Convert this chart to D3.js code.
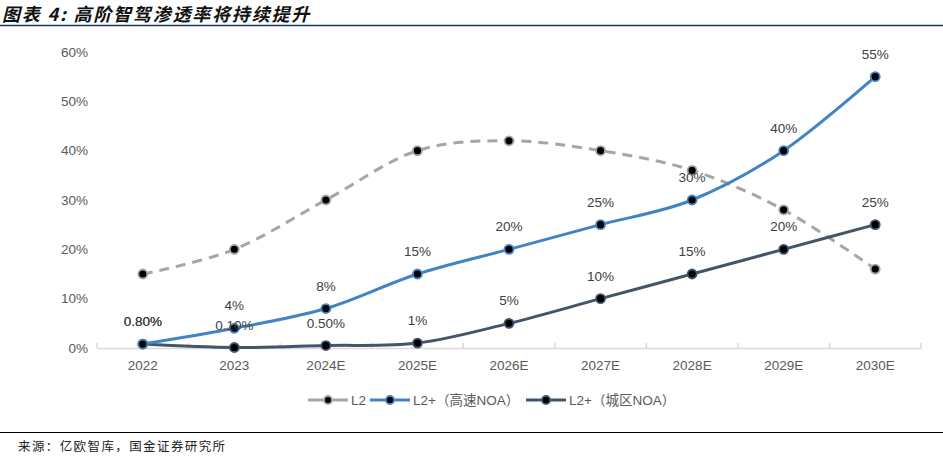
<!DOCTYPE html>
<html><head><meta charset="utf-8">
<script src="https://cdn.jsdelivr.net/npm/d3@7"></script>
<style>body{margin:0;background:#fff;}svg{display:block;}</style>
</head><body>
<svg id="c" width="943" height="466"></svg>
<script>
const categories = ["2022","2023","2024E","2025E","2026E","2027E","2028E","2029E","2030E"];
const l2Values = [15,20,30,40,42,40,36,28,16];
const highwayValues = [0.8,4,8,15,20,25,30,40,55];
const urbanValues = [0.8,0.1,0.5,1,5,10,15,20,25];
const highwayLabels = ["0.80%","4%","8%","15%","20%","25%","30%","40%","55%"];
const urbanLabels = ["0.80%","0.10%","0.50%","1%","5%","10%","15%","20%","25%"];
const yTicks = [0,10,20,30,40,50,60];
const seriesNames = ["L2","L2+（高速NOA）","L2+（城区NOA）"];
const titleText = "图表 4: 高阶智驾渗透率将持续提升";
const sourceText = "来源：亿欧智库，国金证券研究所";

const svg = d3.select("#c");
const x = d3.scaleBand().domain(categories).range([97,921]);
const y = d3.scaleLinear().domain([0,60]).range([348,52]);
const cx = c => x(c) + x.bandwidth()/2;
const fnt = "Arial, 'Liberation Sans'";

// title
svg.append("text").attr("x",2).attr("y",21).text(titleText)
  .attr("font-family","'Noto Sans CJK SC'").attr("font-size",18).attr("font-weight","bold")
  .attr("font-style","italic").attr("letter-spacing",1.8).attr("fill","#111");
svg.append("line").attr("x1",0).attr("x2",943).attr("y1",25.5).attr("y2",25.5)
  .attr("stroke","#1d3a57").attr("stroke-width",1.5);

// y axis
const yAxis = d3.axisLeft(y).tickValues(yTicks).tickFormat(d=>d+"%").tickSize(0).tickPadding(9);
const ga = svg.append("g").attr("transform","translate(97,0)").call(yAxis);
ga.select(".domain").remove();
ga.selectAll("text").attr("font-family",fnt).attr("font-size",13.5).attr("fill","#595959");

// x axis
const xAxis = d3.axisBottom(x).tickSize(0).tickPadding(12);
const gx = svg.append("g").attr("transform","translate(0,348)").call(xAxis);
gx.select(".domain").attr("stroke","#d9d9d9").attr("stroke-width",1.5);
gx.selectAll("text").attr("font-family",fnt).attr("font-size",13.5).attr("fill","#595959");
const bounds = categories.map(c=>x(c)).concat([x(categories[categories.length-1])+x.bandwidth()]);
svg.append("g").selectAll("line").data(bounds).join("line")
  .attr("x1",d=>d).attr("x2",d=>d).attr("y1",343).attr("y2",348)
  .attr("stroke","#d9d9d9").attr("stroke-width",1.5);

const line = d3.line().x((d,i)=>cx(categories[i])).y(d=>y(d)).curve(d3.curveCardinal.tension(0));

const series = [
  {vals:l2Values, color:"#a6a6a6", dash:"10,7", labels:null},
  {vals:urbanValues, color:"#44546a", dash:null, labels:urbanLabels},
  {vals:highwayValues, color:"#4283c4", dash:null, labels:highwayLabels}
];

series.forEach(s=>{
  svg.append("path").datum(s.vals).attr("d",line).attr("fill","none")
    .attr("stroke",s.color).attr("stroke-width",3).attr("stroke-dasharray",s.dash);
});
series.forEach(s=>{
  svg.append("g").selectAll("circle").data(s.vals).join("circle")
    .attr("cx",(d,i)=>cx(categories[i])).attr("cy",d=>y(d)).attr("r",4.5)
    .attr("fill","#000").attr("stroke",s.color).attr("stroke-width",1.8);
});
series.forEach(s=>{
  if(!s.labels) return;
  svg.append("g").selectAll("text").data(s.vals).join("text")
    .attr("x",(d,i)=>cx(categories[i])).attr("y",d=>y(d)-18)
    .attr("text-anchor","middle").text((d,i)=>s.labels[i])
    .attr("font-family",fnt).attr("font-size",13.5).attr("fill","#404040");
});

// legend
const legendItems = [
  {name:seriesNames[0], color:"#a6a6a6", x0:308},
  {name:seriesNames[1], color:"#4283c4", x0:370},
  {name:seriesNames[2], color:"#44546a", x0:526}
];
const lg = svg.append("g");
legendItems.forEach(it=>{
  lg.append("line").attr("x1",it.x0).attr("x2",it.x0+40).attr("y1",400).attr("y2",400)
    .attr("stroke",it.color).attr("stroke-width",3);
  lg.append("circle").attr("cx",it.x0+20).attr("cy",400).attr("r",4)
    .attr("fill","#000").attr("stroke",it.color).attr("stroke-width",1.8);
  lg.append("text").attr("x",it.x0+43).attr("y",405).text(it.name)
    .attr("font-family","Arial, 'Liberation Sans', 'Noto Sans CJK SC'").attr("font-size",13.5).attr("fill","#595959");
});

// bottom
svg.append("line").attr("x1",0).attr("x2",943).attr("y1",432.5).attr("y2",432.5)
  .attr("stroke","#000").attr("stroke-width",1.2);
svg.append("text").attr("x",18).attr("y",451).text(sourceText)
  .attr("font-family","'Noto Sans CJK SC'").attr("font-size",12.5).attr("letter-spacing",1.4).attr("fill","#222");
</script>
</body></html>
